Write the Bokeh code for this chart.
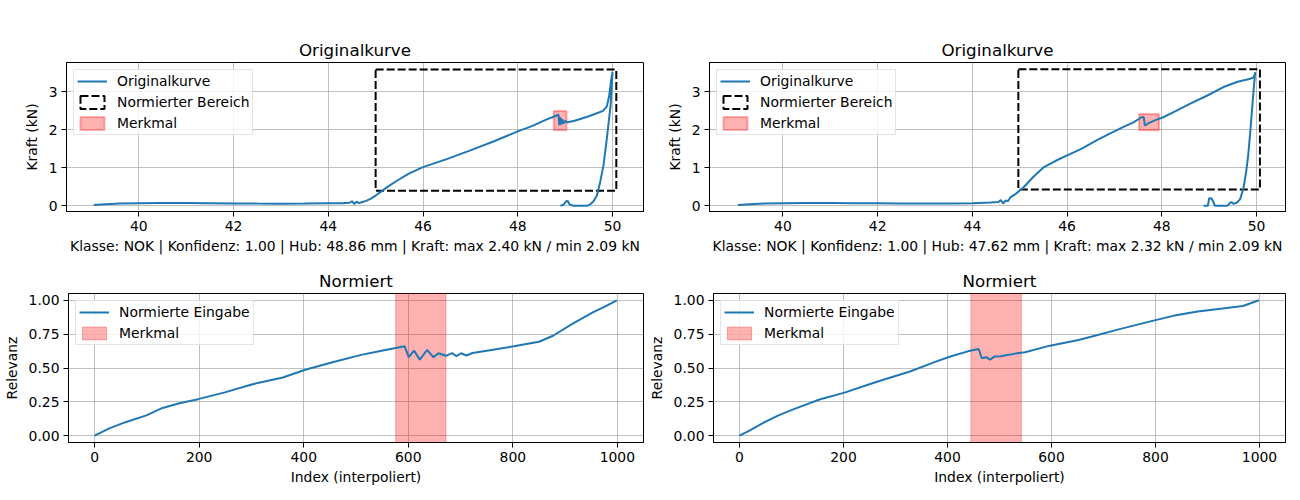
from bokeh.plotting import figure
from bokeh.layouts import row, column
from bokeh.models import Range1d, FixedTicker, NumeralTickFormatter, Legend, LegendItem
from bokeh.embed import file_html
from bokeh.resources import INLINE

FONT = "DejaVu Sans"
BLUE = "#1f77b4"
TICK_SIZE = "13.9px"
TITLE_SIZE = "16.7px"

# ---- Sample 1: raw force/stroke curve (mm, kN) ----
weg_1 = [39.05, 39.3, 39.6, 40.0, 40.5, 41.0, 41.5, 42.0, 42.5, 43.0, 43.5, 44.0, 44.3,
         44.45, 44.5, 44.55, 44.6, 44.65, 44.72, 44.8, 44.9, 45.0, 45.1, 45.25, 45.45,
         45.7, 46.0, 46.5, 47.0, 47.5, 48.0, 48.3, 48.6, 48.86, 48.88, 48.9, 48.92, 48.94,
         48.97, 49.0, 49.05, 49.2, 49.5, 49.8, 49.88, 49.93, 49.97, 50.0, 49.96, 49.88,
         49.81, 49.74, 49.67, 49.6, 49.53, 49.46, 49.3, 49.18, 49.1, 49.05, 49.02, 48.97,
         48.9]
kraft_1 = [0.02, 0.04, 0.06, 0.07, 0.075, 0.072, 0.068, 0.062, 0.058, 0.056, 0.06, 0.068,
           0.07, 0.08, 0.12, 0.05, 0.11, 0.07, 0.1, 0.13, 0.19, 0.27, 0.36, 0.5, 0.66,
           0.85, 1.02, 1.23, 1.46, 1.7, 1.96, 2.1, 2.27, 2.40, 2.12, 2.33, 2.14, 2.28,
           2.17, 2.24, 2.2, 2.24, 2.36, 2.5, 2.62, 2.9, 3.3, 3.53, 2.65, 1.77, 1.07, 0.63,
           0.27, 0.12, 0.04, 0.0, 0.0, 0.0, 0.03, 0.13, 0.12, 0.03, 0.0]
bereich_1 = dict(left=45.0, right=50.08, bottom=0.40, top=3.59)
klasse_1, konfidenz_1 = "NOK", 1.00
hub_1, hub_ende_1 = 48.86, 49.03
kraft_max_1, kraft_min_1 = 2.40, 2.09

# ---- Sample 1: normalised input (interpolated to 1000 points) ----
idx_1 = [0, 28, 59, 99, 130, 162, 198, 249, 289, 312, 360, 403, 455, 510, 549, 593, 601,
         611, 622, 636, 648, 658, 672, 684, 692, 701, 711, 723, 771, 802, 826, 850, 877,
         913, 953, 976, 999]
norm_1 = [0.0, 0.054, 0.10, 0.15, 0.205, 0.24, 0.27, 0.32, 0.365, 0.39, 0.43, 0.487,
          0.543, 0.597, 0.628, 0.66, 0.58, 0.628, 0.562, 0.633, 0.58, 0.609, 0.59, 0.61,
          0.587, 0.609, 0.592, 0.611, 0.64, 0.66, 0.677, 0.694, 0.738, 0.824, 0.91, 0.953,
          1.0]
merkmal_idx_1 = (576, 672)

# ---- Sample 2: raw force/stroke curve (mm, kN) ----
weg_2 = [39.05, 39.3, 39.6, 40.0, 40.5, 41.0, 41.5, 42.0, 42.5, 43.0, 43.5, 44.0, 44.38,
         44.55, 44.6, 44.65, 44.7, 44.75, 44.8, 44.9, 45.08, 45.3, 45.51, 45.75, 46.0,
         46.3, 46.63, 46.9, 47.19, 47.4, 47.58, 47.62, 47.64, 47.68, 47.72, 47.85, 48.04,
         48.3, 48.6, 48.95, 49.3, 49.6, 49.87, 49.93, 49.96, 49.97, 49.92, 49.87, 49.82,
         49.78, 49.72, 49.65, 49.58, 49.51, 49.47, 49.44, 49.4, 49.37, 49.25, 49.12,
         49.08, 49.05, 49.0, 48.97, 48.88]
kraft_2 = [0.02, 0.04, 0.06, 0.07, 0.075, 0.075, 0.07, 0.065, 0.06, 0.058, 0.06, 0.07,
           0.09, 0.1, 0.15, 0.06, 0.14, 0.12, 0.22, 0.3, 0.49, 0.78, 1.02, 1.18, 1.33,
           1.5, 1.73, 1.9, 2.08, 2.2, 2.34, 2.33, 2.12, 2.14, 2.18, 2.25, 2.34, 2.5, 2.69,
           2.9, 3.13, 3.27, 3.35, 3.38, 3.45, 3.52, 2.8, 2.0, 1.3, 0.9, 0.45, 0.17, 0.08,
           0.05, 0.1, 0.08, 0.02, 0.0, 0.0, 0.0, 0.12, 0.19, 0.2, 0.0, 0.0]
bereich_2 = dict(left=44.97, right=50.07, bottom=0.43, top=3.6)
klasse_2, konfidenz_2 = "NOK", 1.00
hub_2, hub_ende_2 = 47.62, 47.94
kraft_max_2, kraft_min_2 = 2.32, 2.09

# ---- Sample 2: normalised input ----
idx_2 = [0, 20, 43, 75, 107, 154, 202, 257, 289, 328, 375, 407, 439, 460, 466, 474, 482,
         490, 502, 518, 534, 549, 597, 652, 676, 731, 794, 834, 881, 929, 968, 999]
norm_2 = [0.0, 0.04, 0.09, 0.15, 0.20, 0.267, 0.318, 0.389, 0.428, 0.474, 0.543, 0.587,
          0.623, 0.64, 0.572, 0.58, 0.562, 0.584, 0.587, 0.597, 0.609, 0.616, 0.665,
          0.707, 0.731, 0.787, 0.848, 0.885, 0.917, 0.939, 0.958, 1.0]
merkmal_idx_2 = (445, 542)

kraft_ticks = [0, 1, 2, 3]
weg_ticks = [40, 42, 44, 46, 48, 50]
idx_ticks = [0, 200, 400, 600, 800, 1000]
norm_ticks = [0.0, 0.25, 0.5, 0.75, 1.0]

PAD = 0.1  # margin around the marked feature in kN / mm


def style(p, xticks, yticks, xlabel, ylabel, yfmt=None):
    p.title.text_font = FONT
    p.title.text_font_size = TITLE_SIZE
    p.title.text_font_style = "normal"
    p.title.text_color = "black"
    p.title.align = "center"
    p.title.standoff = 5
    p.xaxis.ticker = FixedTicker(ticks=xticks)
    p.yaxis.ticker = FixedTicker(ticks=yticks)
    if yfmt:
        p.yaxis.formatter = NumeralTickFormatter(format=yfmt)
    p.xaxis.axis_label = xlabel
    p.yaxis.axis_label = ylabel
    for ax in p.xaxis + p.yaxis:
        ax.major_tick_out = 5
        ax.major_tick_in = 0
        ax.minor_tick_out = 0
        ax.minor_tick_in = 0
        ax.major_tick_line_color = "black"
        ax.axis_line_color = "black"
        ax.major_label_text_font = FONT
        ax.major_label_text_font_size = TICK_SIZE
        ax.major_label_text_color = "black"
        ax.axis_label_text_font = FONT
        ax.axis_label_text_font_size = TICK_SIZE
        ax.axis_label_text_font_style = "normal"
        ax.axis_label_text_color = "black"
        ax.major_label_standoff = 4
    p.xaxis.axis_label_standoff = 4
    p.yaxis.axis_label_standoff = 6
    p.grid.grid_line_color = "#b0b0b0"
    p.grid.grid_line_width = 0.8
    p.outline_line_color = "black"
    p.outline_line_width = 1
    p.outline_line_alpha = 1


def legend(p, items):
    lg = Legend(items=[LegendItem(label=l, renderers=[r]) for l, r in items],
                location="top_left", margin=7, padding=3, spacing=5,
                glyph_width=30, glyph_height=16, label_height=16, label_standoff=10,
                label_text_font=FONT, label_text_font_size=TICK_SIZE,
                label_text_color="black", border_line_color="#cccccc",
                border_line_width=1, background_fill_alpha=0.8)
    p.add_layout(lg)


def raw_plot(weg, kraft, bereich, klasse, konf, hub, hub_ende, fmax, fmin,
             xr, width, left, right):
    p = figure(width=width, height=260, output_backend="svg", toolbar_location=None,
               title="Originalkurve", x_range=Range1d(*xr), y_range=Range1d(-0.15, 3.776),
               min_border_left=left, min_border_right=right,
               min_border_top=62, min_border_bottom=49)
    r_box = p.quad(left=[bereich["left"]], right=[bereich["right"]],
                   bottom=[bereich["bottom"]], top=[bereich["top"]],
                   fill_alpha=0, line_color="black", line_width=2, line_dash="8 3")
    r_feat = p.quad(left=[hub - PAD], right=[hub_ende], bottom=[fmin - PAD], top=[fmax + PAD],
                    fill_color="red", fill_alpha=0.3, line_color="red", line_alpha=0.3,
                    line_width=2)
    r_line = p.line(weg, kraft, line_color=BLUE, line_width=2)
    label = (f"Klasse: {klasse} | Konfidenz: {konf:.2f} | Hub: {hub:.2f} mm | "
             f"Kraft: max {fmax:.2f} kN / min {fmin:.2f} kN")
    style(p, weg_ticks, kraft_ticks, label, "Kraft (kN)")
    legend(p, [("Originalkurve", r_line), ("Normierter Bereich", r_box), ("Merkmal", r_feat)])
    return p


def norm_plot(idx, norm, span, width, left, right):
    yr = Range1d(-0.05, 1.05)
    p = figure(width=width, height=240, output_backend="svg", toolbar_location=None,
               title="Normiert", x_range=Range1d(-50, 1050), y_range=yr,
               min_border_left=left, min_border_right=right,
               min_border_top=33, min_border_bottom=58)
    r_feat = p.quad(left=[span[0]], right=[span[1]], bottom=[yr.start], top=[yr.end],
                    fill_color="red", fill_alpha=0.3, line_color="red", line_alpha=0.3,
                    line_width=1)
    r_line = p.line(idx, norm, line_color=BLUE, line_width=2)
    style(p, idx_ticks, norm_ticks, "Index (interpoliert)", "Relevanz", yfmt="0.00")
    legend(p, [("Normierte Eingabe", r_line), ("Merkmal", r_feat)])
    return p


p1 = raw_plot(weg_1, kraft_1, bereich_1, klasse_1, konfidenz_1, hub_1, hub_ende_1,
              kraft_max_1, kraft_min_1, (38.475, 50.654), 645, 66, 2)
p2 = raw_plot(weg_2, kraft_2, bereich_2, klasse_2, konfidenz_2, hub_2, hub_ende_2,
              kraft_max_2, kraft_min_2, (38.45, 50.61), 655, 64, 15)
p3 = norm_plot(idx_1, norm_1, merkmal_idx_1, 645, 67, 2)
p4 = norm_plot(idx_2, norm_2, merkmal_idx_2, 655, 64, 15)

layout = column(row(p1, p2), row(p3, p4))
open("out.html", "w").write(file_html(layout, INLINE))
